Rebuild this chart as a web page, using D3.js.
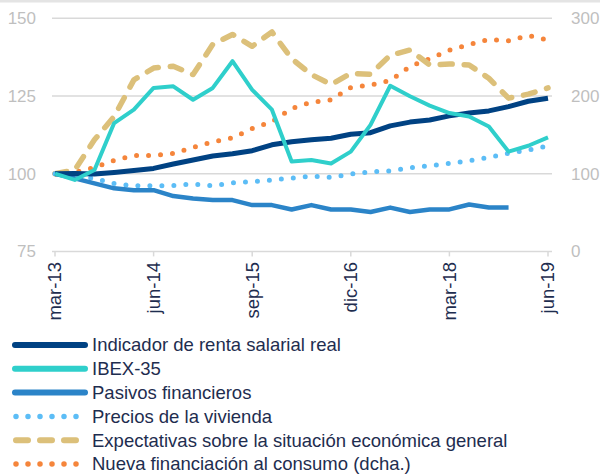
<!DOCTYPE html>
<html>
<head>
<meta charset="utf-8">
<script src="https://cdn.jsdelivr.net/npm/d3@7"></script>
<style>
  body { margin: 0; background: #ffffff; }
  svg { display: block; font-family: "Liberation Sans", Arial, sans-serif; }
  .grid line { stroke: #d9d9d9; stroke-width: 1.5; }
</style>
</head>
<body>
<svg id="chart" width="600" height="475"></svg>
<script>
  // quarters mar-13 .. jun-19
  const quarters = [
    "mar-13", "jun-13", "sep-13", "dic-13",
    "mar-14", "jun-14", "sep-14", "dic-14",
    "mar-15", "jun-15", "sep-15", "dic-15",
    "mar-16", "jun-16", "sep-16", "dic-16",
    "mar-17", "jun-17", "sep-17", "dic-17",
    "mar-18", "jun-18", "sep-18", "dic-18",
    "mar-19", "jun-19"
  ];
  const tickLabels = ["mar-13", "jun-14", "sep-15", "dic-16", "mar-18", "jun-19"];
  const leftTicks = [75, 100, 125, 150];
  const rightTicks = [0, 100, 200, 300];

  const rentaSalarial = [100, 100.1, 99.9, 100.4, 101.0, 101.7, 103.1, 104.4, 105.7, 106.4, 107.4, 109.3, 110.3,
    110.9, 111.4, 112.7, 113.2, 115.4, 116.6, 117.3, 118.6, 119.5, 120.2, 121.6, 123.3, 124.3];
  const ibex35 = [100, 98.0, 101.2, 116.3, 120.6, 127.6, 128.1, 123.8, 127.6, 136.2, 127.0, 120.6, 103.9,
    104.4, 103.3, 107.1, 115.7, 128.3, 124.9, 121.9, 119.5, 118.4, 115.2, 107.1, 109.0, 111.7];
  const pasivos = [100, 98.5, 96.9, 95.3, 94.7, 94.7, 92.8, 92.0, 91.5, 91.5, 89.9, 89.9, 88.5,
    89.9, 88.5, 88.5, 87.7, 89.1, 87.7, 88.5, 88.5, 90.1, 89.1, 89.1, null, null];
  const preciosVivienda = [100, 99.0, 98.5, 96.8, 96.1, 96.1, 96.2, 96.7, 96.1, 97.1, 97.4, 98.0, 98.6,
    99.2, 98.8, 99.9, 100.6, 100.9, 101.9, 102.6, 103.3, 104.2, 105.2, 106.6, 107.6, 108.9];
  const expectativas = [100, 101.2, 110.9, 118.4, 130.2, 134.0, 134.6, 131.9, 141.6, 144.8, 141.0, 145.6, 137.0,
    131.9, 128.7, 132.3, 132.0, 138.1, 139.8, 135.0, 135.3, 135.0, 130.7, 124.3, 125.6, 127.6];
  // right axis
  const nuevaFinanciacion = [100, 102, 108, 117, 123.5, 123.5, 126, 134, 141, 146, 158, 167, 184,
    192, 195, 211, 214, 220, 238, 248, 259, 266, 273, 271, 278, 272];

  const seriesNames = [
    "Indicador de renta salarial real",
    "IBEX-35",
    "Pasivos financieros",
    "Precios de la vivienda",
    "Expectativas sobre la situación económica general",
    "Nueva financiación al consumo (dcha.)"
  ];
  const seriesValues = [rentaSalarial, ibex35, pasivos, preciosVivienda, expectativas, nuevaFinanciacion];

  // styles per series
  const styles = [
    { color: "#004283", width: 5, dash: null, axis: "left" },
    { color: "#2fcfcb", width: 4, dash: null, axis: "left" },
    { color: "#2b84c8", width: 4.5, dash: null, axis: "left" },
    { color: "#5cbdf6", width: 5, dash: "0 12", axis: "left" },
    { color: "#dcc07a", width: 5.5, dash: "12 12", axis: "left" },
    { color: "#f5853b", width: 5, dash: "0 12", axis: "right" }
  ];

  const svg = d3.select("#chart");

  const x = d3.scalePoint().domain(quarters).range([55, 548]);
  const yLeft = d3.scaleLinear().domain([75, 150]).range([251.4, 18.3]);
  const yRight = d3.scaleLinear().domain([0, 300]).range([251.4, 18.3]);

  // thin grey band at the top edge
  svg.append("rect").attr("x", 0).attr("y", 0).attr("width", 600).attr("height", 2.5).attr("fill", "#e4e4e4");

  // gridlines
  svg.append("g").attr("class", "grid")
    .selectAll("line").data(leftTicks).join("line")
      .attr("x1", 52).attr("x2", 552)
      .attr("y1", d => yLeft(d)).attr("y2", d => yLeft(d));

  // x tick marks
  svg.append("g")
    .selectAll("line").data(tickLabels).join("line")
      .attr("x1", d => x(d)).attr("x2", d => x(d))
      .attr("y1", yLeft(75)).attr("y2", yLeft(75) + 5)
      .attr("stroke", "#d9d9d9").attr("stroke-width", 1.5);

  // x labels, rotated
  svg.append("g")
    .selectAll("text").data(tickLabels).join("text")
      .attr("transform", d => `translate(${x(d)},262) rotate(-90)`)
      .attr("dy", "0.35em")
      .attr("text-anchor", "end")
      .attr("fill", "#1e2d4f")
      .attr("font-size", 18.5)
      .text(d => d);

  // left axis labels
  svg.append("g")
    .selectAll("text").data(leftTicks).join("text")
      .attr("x", 36).attr("y", d => yLeft(d)).attr("dy", "0.35em")
      .attr("text-anchor", "end")
      .attr("fill", "#bfbfbf").attr("font-size", 17)
      .text(d => d);

  // right axis labels
  svg.append("g")
    .selectAll("text").data(rightTicks).join("text")
      .attr("x", 571).attr("y", d => yRight(d)).attr("dy", "0.35em")
      .attr("text-anchor", "start")
      .attr("fill", "#bfbfbf").attr("font-size", 17)
      .text(d => d);

  // lines
  const drawOrder = [5, 4, 3, 2, 0, 1];
  drawOrder.forEach(k => {
    const st = styles[k];
    const y = st.axis === "left" ? yLeft : yRight;
    const line = d3.line()
      .defined(d => d != null)
      .x((d, i) => x(quarters[i]))
      .y(d => y(d));
    svg.append("path")
      .datum(seriesValues[k])
      .attr("d", line)
      .attr("fill", "none")
      .attr("stroke", st.color)
      .attr("stroke-width", st.width)
      .attr("stroke-linejoin", "round")
      .attr("stroke-linecap", st.dash ? "round" : "butt")
      .attr("stroke-dasharray", st.dash);
  });

  // legend
  const legend = svg.append("g");
  seriesNames.forEach((name, k) => {
    const st = styles[k];
    const yy = 345 + k * 23.8;
    legend.append("line")
      .attr("x1", st.dash ? 16 : 15).attr("x2", st.dash ? 78 : 85)
      .attr("y1", yy).attr("y2", yy)
      .attr("stroke", st.color)
      .attr("stroke-width", st.dash ? st.width + 0.5 : 6)
      .attr("stroke-linecap", "round")
      .attr("stroke-dasharray", st.dash);
    legend.append("text")
      .attr("x", 92).attr("y", yy).attr("dy", "0.35em")
      .attr("fill", "#1e2d4f").attr("font-size", 18.5)
      .text(name);
  });
</script>
</body>
</html>
